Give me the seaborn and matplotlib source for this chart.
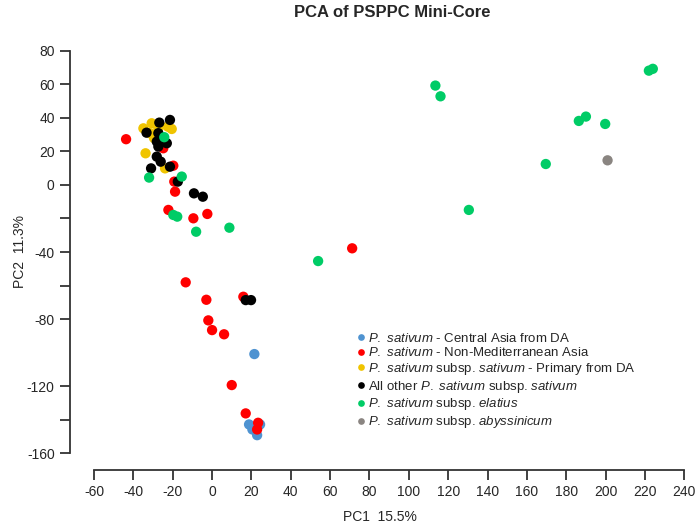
import pandas as pd
import matplotlib
matplotlib.use("Agg")
import matplotlib.pyplot as plt
import seaborn as sns

# groups in legend order
groups = [
    r"$\it{P.\ sativum}$ - Central Asia from DA",
    r"$\it{P.\ sativum}$ - Non-Mediterranean Asia",
    r"$\it{P.\ sativum}$ subsp. $\it{sativum}$ - Primary from DA",
    r"All other $\it{P.\ sativum}$ subsp. $\it{sativum}$",
    r"$\it{P.\ sativum}$ subsp. $\it{elatius}$",
    r"$\it{P.\ sativum}$ subsp. $\it{abyssinicum}$",
]
colors = ["#4f93d1", "#ff0000", "#f0c400", "#000000", "#00cc66", "#8a8581"]

central_pc1 = [21.5, 18.8, 24.4, 20.5, 22.9]
central_pc2 = [-100.9, -142.9, -142.9, -145.9, -149.3]

nonmed_pc1 = [-43.7, -24.8, -19.7, -19.2, -18.8, -22.2, -9.5, -2.4, -13.4, -2.9,
              15.9, -1.9, 0.0, 6.1, 10.0, 17.1, 23.4, 22.9, 71.2]
nonmed_pc2 = [27.3, 21.9, 11.5, 2.0, -4.0, -14.9, -19.9, -17.3, -58.1, -68.5,
              -66.7, -80.8, -86.6, -89.1, -119.4, -136.3, -141.9, -145.9, -37.8]

primary_pc1 = [-34.9, -30.7, -31.5, -27.3, -22.5, -20.5, -33.8, -23.9, -29.5]
primary_pc2 = [33.8, 36.8, 30.9, 33.8, 34.8, 33.4, 18.9, 9.9, 28.0]

other_pc1 = [-33.3, -26.8, -21.4, -27.3, -28.1, -23.0, -27.3, -25.5, -28.1, -26.1,
             -31.0, -21.4, -17.4, -9.2, -4.7, 17.1, 19.8]
other_pc2 = [31.2, 37.2, 38.8, 30.9, 25.9, 24.9, 22.9, 27.5, 16.9, 13.9,
             9.9, 10.9, 2.0, -5.0, -7.0, -68.7, -68.7]

elatius_pc1 = [-24.3, -32.0, -15.4, -19.7, -17.7, -8.1, 8.8, 53.9, 113.5, 116.1,
               130.5, 169.6, 186.4, 190.0, 199.8, 222.0, 224.0]
elatius_pc2 = [28.5, 4.4, 5.0, -17.9, -18.9, -27.9, -25.5, -45.4, 59.3, 52.9,
               -14.9, 12.5, 38.2, 40.8, 36.4, 68.2, 69.3]

abyss_pc1 = [201.0]
abyss_pc2 = [14.7]

pc1_all = [central_pc1, nonmed_pc1, primary_pc1, other_pc1, elatius_pc1, abyss_pc1]
pc2_all = [central_pc2, nonmed_pc2, primary_pc2, other_pc2, elatius_pc2, abyss_pc2]

rows = []
for g, xs, ys in zip(groups, pc1_all, pc2_all):
    for x, y in zip(xs, ys):
        rows.append({"PC1": x, "PC2": y, "group": g})
df = pd.DataFrame(rows)

sns.set_style("white")
plt.rcParams["font.family"] = ["Liberation Sans", "DejaVu Sans"]
plt.rcParams["mathtext.fontset"] = "custom"
plt.rcParams["mathtext.rm"] = "Liberation Sans"
plt.rcParams["mathtext.it"] = "Liberation Sans:italic"
plt.rcParams["axes.unicode_minus"] = False

fig = plt.figure(figsize=(7, 5.25), dpi=100)
ax = fig.add_axes([0.1, 0.105, 0.886, 0.830])

sns.scatterplot(data=df, x="PC1", y="PC2", hue="group", hue_order=groups,
                palette=colors, s=55, linewidth=0, alpha=1, ax=ax, legend=True)

ax.set_xlim(-72.2, 243)
ax.set_ylim(-170, 90)

ax.set_xticks(range(-60, 241, 20))
yt = [80, 60, 40, 20, 0, -20, -40, -60, -80, -120, -140, -160]
ax.set_yticks(yt)
ax.set_yticklabels([str(v) if v not in (-20, -60, -140) else "" for v in yt])

for side in ["top", "right"]:
    ax.spines[side].set_visible(False)
ax.spines["left"].set_bounds(-160, 80)
ax.spines["bottom"].set_bounds(-60, 240)
for side in ["left", "bottom"]:
    ax.spines[side].set_color("#333333")
    ax.spines[side].set_linewidth(1.3)
ax.tick_params(axis="both", direction="out", length=7, width=1.3, color="#333333",
               labelsize=10, pad=4, left=True, bottom=True)

ax.set_xlabel("PC1  15.5%", fontsize=10, labelpad=8)
ax.set_ylabel("PC2  11.3%", fontsize=10, labelpad=0)

fig.text(0.56, 0.977, "PCA of PSPPC Mini-Core", ha="center", va="center",
         fontsize=12, fontweight="bold")

handles, labels = ax.get_legend_handles_labels()
ax.legend(handles, labels, loc="upper left", bbox_to_anchor=(346 / 700, 1 - 325 / 525),
          bbox_transform=fig.transFigure, frameon=False, fontsize=9.5,
          markerscale=0.65, handletextpad=0.0, labelspacing=0.13, borderpad=0,
          handlelength=1.2)

fig.savefig("out.png", dpi=100)
